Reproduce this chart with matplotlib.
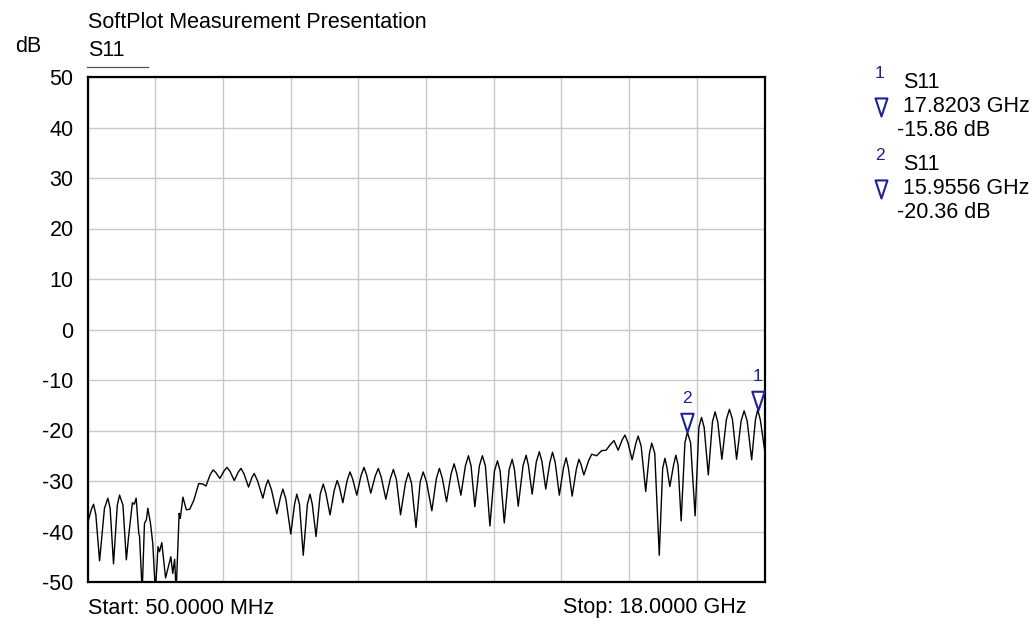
#!/usr/bin/env python3
# -*- coding: utf-8 -*-
"""plot.py — SoftPlot style S11 return loss trace with two markers."""
import numpy as np
import matplotlib
matplotlib.use("Agg")
import matplotlib.pyplot as plt
from matplotlib.path import Path
from matplotlib.lines import Line2D

plt.rcParams["font.family"] = ["Liberation Sans", "DejaVu Sans"]

# ---------------------------------------------------------------------------
# data (frequency in GHz, magnitude in dB)
# ---------------------------------------------------------------------------
freq_ghz = [
    0.05, 0.15, 0.21, 0.27, 0.37, 0.50, 0.59, 0.65,
    0.74, 0.84, 0.90, 0.99, 1.08, 1.14, 1.24, 1.29,
    1.34, 1.41, 1.43, 1.50, 1.56, 1.61, 1.65, 1.72,
    1.78, 1.85, 1.92, 1.96, 2.02, 2.12, 2.26, 2.31,
    2.36, 2.40, 2.48, 2.51, 2.58, 2.67, 2.76, 2.87,
    3.00, 3.11, 3.19, 3.30, 3.38, 3.45, 3.56, 3.67,
    3.75, 3.83, 3.94, 4.05, 4.12, 4.20, 4.32, 4.41,
    4.47, 4.56, 4.70, 4.78, 4.84, 4.93, 5.07, 5.17,
    5.23, 5.31, 5.44, 5.54, 5.60, 5.67, 5.77, 5.88,
    5.95, 6.01, 6.11, 6.22, 6.30, 6.37, 6.48, 6.59,
    6.67, 6.73, 6.82, 6.93, 7.01, 7.08, 7.19, 7.30,
    7.38, 7.45, 7.56, 7.68, 7.76, 7.84, 7.96, 8.08,
    8.16, 8.24, 8.35, 8.48, 8.56, 8.64, 8.76, 8.87,
    8.95, 9.04, 9.18, 9.30, 9.38, 9.46, 9.57, 9.69,
    9.77, 9.84, 9.95, 10.07, 10.15, 10.22, 10.32, 10.44,
    10.52, 10.60, 10.72, 10.84, 10.92, 10.99, 11.10, 11.23,
    11.31, 11.37, 11.47, 11.60, 11.68, 11.74, 11.84, 11.95,
    12.03, 12.10, 12.20, 12.31, 12.38, 12.45, 12.56, 12.67,
    12.74, 12.80, 12.90, 13.01, 13.08, 13.13, 13.21, 13.34,
    13.42, 13.55, 13.68, 13.80, 13.90, 14.01, 14.12, 14.23,
    14.30, 14.38, 14.49, 14.59, 14.65, 14.73, 14.85, 14.95,
    15.01, 15.09, 15.21, 15.30, 15.36, 15.41, 15.49, 15.59,
    15.65, 15.71, 15.79, 15.89, 15.9556, 16.04, 16.16, 16.26,
    16.33, 16.40, 16.51, 16.62, 16.69, 16.76, 16.87, 16.99,
    17.07, 17.15, 17.26, 17.38, 17.46, 17.54, 17.66, 17.76,
    17.8203, 17.89, 18.0,
]
s11_db = [
    -38.4, -35.7, -34.6, -36.6, -45.8, -35.4, -33.4, -35.4,
    -46.4, -34.8, -32.8, -34.8, -45.6, -41.0, -34.3, -34.6,
    -33.4, -40.4, -41.0, -52.0, -38.4, -37.7, -35.4, -38.4,
    -42.3, -52.0, -43.0, -44.0, -42.2, -49.2, -45.0, -48.3,
    -45.5, -52.0, -36.4, -37.4, -33.2, -35.7, -35.6, -33.8,
    -30.5, -30.6, -31.0, -28.8, -27.8, -28.3, -29.5, -28.0,
    -27.3, -28.1, -29.9, -28.2, -27.5, -28.6, -31.2, -29.3,
    -28.5, -30.0, -33.4, -30.9, -29.8, -31.8, -36.5, -33.1,
    -31.6, -33.6, -40.5, -34.6, -32.6, -34.6, -44.7, -34.6,
    -32.6, -34.6, -41.0, -32.6, -30.6, -32.4, -36.7, -31.9,
    -29.9, -31.2, -34.3, -30.0, -28.2, -29.6, -32.8, -29.0,
    -27.3, -28.8, -32.4, -29.0, -27.5, -29.3, -33.6, -29.5,
    -27.7, -29.7, -36.7, -30.4, -28.4, -30.4, -39.2, -30.2,
    -28.2, -30.2, -35.9, -29.5, -27.5, -29.5, -34.1, -28.6,
    -26.6, -28.5, -32.8, -27.0, -25.0, -27.0, -35.1, -27.0,
    -25.0, -27.0, -38.9, -28.0, -26.0, -28.0, -38.3, -27.7,
    -25.7, -27.7, -35.0, -26.9, -24.9, -26.9, -32.6, -26.2,
    -24.2, -26.2, -31.6, -26.3, -24.3, -26.3, -32.8, -27.4,
    -25.4, -27.4, -33.0, -27.7, -25.7, -26.6, -28.8, -25.9,
    -24.7, -25.0, -24.0, -23.9, -22.9, -22.0, -23.9, -21.8,
    -20.9, -22.4, -25.8, -22.5, -21.1, -23.1, -32.1, -24.5,
    -22.5, -24.5, -44.7, -27.5, -25.5, -27.2, -31.1, -26.8,
    -24.9, -26.9, -37.9, -22.4, -20.36, -22.4, -36.9, -19.4,
    -17.4, -19.4, -28.8, -18.3, -16.3, -18.3, -25.7, -17.8,
    -15.8, -17.8, -25.7, -18.1, -16.1, -18.1, -25.8, -17.86,
    -15.86, -17.9, -23.7,
]
assert len(freq_ghz) == len(s11_db)

marker_ids = ["1", "2"]
marker_freq_ghz = [17.8203, 15.9556]
marker_db = [-15.86, -20.36]

y_ticks = [50, 40, 30, 20, 10, 0, -10, -20, -30, -40, -50]

W, H = 1035, 627
NAVY = "#1f1f96"
FS = 15.5
FS_NUM = 12.5


def fx(x):
    return x / W


def fy(y):
    return 1 - y / H


# down-pointing triangle with its tip at the anchor point
tri = Path([(0, 0), (-0.33, 1), (0.33, 1), (0, 0)],
           [Path.MOVETO, Path.LINETO, Path.LINETO, Path.CLOSEPOLY])

fig = plt.figure(figsize=(W / 100, H / 100), dpi=100)
ax = fig.add_axes([fx(87.5), fy(582), fx(677), 505 / H])

ax.plot(freq_ghz, s11_db, color="black", lw=1.0)

ax.set_xlim(0.05, 18.0)
ax.set_ylim(-50, 50)
ax.set_xticks(np.linspace(0.05, 18.0, 11))
ax.set_xticklabels([])
ax.tick_params(axis="x", length=0)
ax.set_yticks(y_ticks)
ax.set_yticklabels([str(v) for v in y_ticks], fontsize=FS)
ax.tick_params(axis="y", length=0, pad=10)
ax.grid(True, color="#c8c8c8", lw=1.0)
for s in ax.spines.values():
    s.set_linewidth(1.6)
    s.set_color("black")

# markers on the trace
for mid, f, v in zip(marker_ids, marker_freq_ghz, marker_db):
    ax.plot([f], [v], marker=tri, ms=27, mfc="none", mec=NAVY, mew=1.5,
            ls="none", clip_on=False, zorder=5)
    ax.annotate(mid, (f, v), xytext=(0, 24), textcoords="offset points",
                ha="center", va="center", color=NAVY, fontsize=FS_NUM)

# header texts
fig.text(fx(88), fy(22), "SoftPlot Measurement Presentation", fontsize=FS,
         ha="left", va="center")
fig.text(fx(15), fy(47), "dB", fontsize=FS, ha="left", va="center")
fig.text(fx(88), fy(50), "S11", fontsize=FS, ha="left", va="center")
fig.add_artist(Line2D([fx(87), fx(148)], [fy(67), fy(67)], color="#555555",
                      lw=0.9, transform=fig.transFigure))

# footer texts
fig.text(fx(88), fy(608), "Start: 50.0000 MHz", fontsize=FS, ha="left", va="center")
fig.text(fx(563), fy(608), "Stop: 18.0000 GHz", fontsize=FS, ha="left", va="center")

# marker readout on the right
for i, (mid, f, v) in enumerate(zip(marker_ids, marker_freq_ghz, marker_db)):
    y0 = 83 + i * 82
    fig.text(fx(880), fy(y0 - 9), mid, fontsize=FS_NUM, color=NAVY,
             ha="center", va="center")
    fig.text(fx(903), fy(y0), "S11", fontsize=FS, ha="left", va="center")
    fig.add_artist(Line2D([fx(880.5)], [fy(y0 + 33)], marker=tri, ms=26,
                          mfc="none", mec=NAVY, mew=1.5,
                          transform=fig.transFigure))
    fig.text(fx(903), fy(y0 + 24), f"{f:.4f} GHz", fontsize=FS,
             ha="left", va="center")
    fig.text(fx(897), fy(y0 + 48), f"{v:.2f} dB", fontsize=FS,
             ha="left", va="center")

fig.savefig("out.png", dpi=100)
print("wrote out.png")
